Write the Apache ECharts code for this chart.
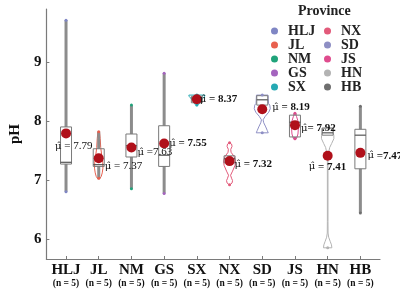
<!DOCTYPE html>
<html><head><meta charset="utf-8">
<script src="https://cdn.jsdelivr.net/npm/echarts@6/dist/echarts.min.js"></script>
<style>html,body{margin:0;padding:0;background:#fff}#c{width:400px;height:289px}</style>
</head><body><div id="c"></div>
<script>
// ---- data ----
const provinces = ['HLJ','JL','NM','GS','SX','NX','SD','JS','HN','HB'];
const sampleSizes = [5,5,5,5,5,5,5,5,5,5];
const dataMin = [6.80,7.03,6.85,6.77,8.27,6.92,7.80,7.70,5.85,6.44];
const dataMax = [9.71,7.82,8.27,8.81,8.44,7.63,8.44,8.13,7.88,8.25];
const q1 = [7.27,7.23,7.39,7.23,8.31,7.29,8.27,7.73,7.76,7.19];
const median = [7.30,7.26,7.58,7.42,8.39,7.36,8.36,7.98,7.80,7.76];
const q3 = [7.90,7.53,7.78,7.92,8.42,7.41,8.43,8.10,7.88,7.86];
const whiskerLow = [6.80,7.03,6.85,6.77,8.31,7.29,8.27,7.70,7.76,6.44];
const whiskerHigh = [9.71,7.82,8.27,8.81,8.42,7.41,8.43,8.13,7.88,8.25];
const meanDot = [7.79,7.37,7.55,7.62,8.37,7.32,8.20,7.93,7.41,7.46];
const meanLabel = ['7.79','7.37','7.63','7.55','8.37','7.32','8.19','7.92','7.41','7.47'];
// violin density profiles [pH, relative density]
const violinHLJ = null;
const violinJL = [[7.02,0.1],[7.06,0.25],[7.12,0.35],[7.2,0.42],[7.3,0.4],[7.42,0.3],[7.55,0.2],[7.7,0.15],[7.82,0.08]];
const violinNM = null;
const violinGS = null;
const violinSX = [[8.26,0.05],[8.28,0.18],[8.31,0.3],[8.35,0.45],[8.39,0.62],[8.42,0.78],[8.44,0.8]];
const violinNX = [[6.92,0.05],[6.95,0.25],[6.99,0.3],[7.03,0.2],[7.08,0.1],[7.15,0.3],[7.25,0.55],[7.33,0.6],[7.4,0.45],[7.47,0.15],[7.52,0.12],[7.57,0.25],[7.61,0.2],[7.63,0.05]];
const violinSD = [[7.80,0.6],[7.84,0.5],[7.9,0.35],[7.97,0.15],[8.02,0.08],[8.08,0.3],[8.15,0.65],[8.21,0.8],[8.27,0.75],[8.3,0.62],[8.38,0.6],[8.44,0.58]];
const violinJS = [[7.70,0.15],[7.78,0.3],[7.9,0.35],[8.0,0.3],[8.08,0.15],[8.13,0.05]];
const violinHN = [[5.85,0.42],[5.9,0.38],[5.96,0.25],[6.03,0.1],[6.1,0.04],[6.3,0.03],[7.3,0.03],[7.45,0.08],[7.55,0.2],[7.62,0.4],[7.7,0.62],[7.75,0.62],[7.8,0.56],[7.88,0.56]];
const violinHB = null;
const yTicks = [6,7,8,9];

// ---- styling ----
const violins = [violinHLJ,violinJL,violinNM,violinGS,violinSX,violinNX,violinSD,violinJS,violinHN,violinHB];
const colors = ['#7f86c4','#e8604e','#1fa37a','#a464be','#25a9b3','#e25a7a','#8e8fc4','#df4c8e','#b3b3b3','#6f6f6f'];
const serif = 'Liberation Serif';
const labelOffsets = [[-11,13],[6,8],[6,5],[5,0],[3,0],[5,3],[10,-2],[6,3],[-19,11],[7,3]];
const labelWeights = ['normal','normal','normal','bold','bold','bold','bold','bold','bold','bold'];
const labelSeps = [' = ',' = ',' =',' = ',' = ',' = ',' = ','= ',' = ',' ='];
const xPos = provinces.map((p,i)=>i+1);

const chart = echarts.init(document.getElementById('c'), null, {renderer:'canvas'});

const violinSeries = {
  type:'custom', z:2, silent:true,
  data: xPos.map((x,i)=>[x,i]),
  renderItem:(params, api)=>{
    const i = api.value(1);
    const prof = violins[i];
    if(!prof) return null;
    const x = api.value(0);
    const scale = 10;
    const right = prof.map(([v,d])=>{const c=api.coord([x,v]);return [c[0]+d*scale,c[1]];});
    const left = prof.slice().reverse().map(([v,d])=>{const c=api.coord([x,v]);return [c[0]-d*scale,c[1]];});
    return {type:'polygon', shape:{points:right.concat(left)}, style:{fill:'rgba(255,255,255,0)', stroke:colors[i], lineWidth:1}};
  }
};

const boxSeries = {
  type:'custom', z:3, silent:true,
  data: xPos.map((x,i)=>[x, whiskerLow[i], q1[i], median[i], q3[i], whiskerHigh[i]]),
  renderItem:(params, api)=>{
    const x = api.value(0);
    const lo = api.coord([x, api.value(1)]);
    const b1 = api.coord([x, api.value(2)]);
    const md = api.coord([x, api.value(3)]);
    const b3 = api.coord([x, api.value(4)]);
    const hi = api.coord([x, api.value(5)]);
    const hw = 5.5;
    const ch = [];
    if (lo[1]-b1[1] > 0.5) ch.push({type:'line', shape:{x1:lo[0],y1:lo[1],x2:b1[0],y2:b1[1]}, style:{stroke:'#8c8c8c', lineWidth:3}});
    if (b3[1]-hi[1] > 0.5) ch.push({type:'line', shape:{x1:b3[0],y1:b3[1],x2:hi[0],y2:hi[1]}, style:{stroke:'#8c8c8c', lineWidth:3}});
    ch.push({type:'rect', shape:{x:b3[0]-hw, y:b3[1], width:hw*2, height:b1[1]-b3[1]}, style:{fill:'rgba(255,255,255,0)', stroke:'#7a7a7a', lineWidth:1}});
    ch.push({type:'line', shape:{x1:md[0]-hw,y1:md[1],x2:md[0]+hw,y2:md[1]}, style:{stroke:'#555', lineWidth:1.2}});
    return {type:'group', children:ch};
  }
};

const endSeries = provinces.map((p,i)=>({
  type:'scatter', name:p, z:4, symbol:'circle', symbolSize:3,
  itemStyle:{color:colors[i], opacity:1},
  data:[[xPos[i], dataMin[i]],[xPos[i], dataMax[i]]]
}));

const meanSeries = {
  type:'scatter', z:6, symbol:'circle', symbolSize:10, silent:true,
  itemStyle:{color:'#b0101a', opacity:1},
  data: xPos.map((x,i)=>({
    value:[x, meanDot[i]],
    label:{show:true, position:[5+labelOffsets[i][0], 5+labelOffsets[i][1]], align:'left', verticalAlign:'middle',
      formatter:'{m|μ\u0302}{t|'+labelSeps[i]+meanLabel[i]+'}',
      rich:{
        m:{fontFamily:'DejaVu Serif', fontSize:10, fontWeight:'normal', color:'#111'},
        t:{fontFamily:serif, fontSize:11, fontWeight:labelWeights[i], color:'#111'}
      }}
  }))
};

const legendText = {fontFamily:serif, fontSize:14, fontWeight:'bold', color:'#222', padding:[0,0,0,5]};
chart.setOption({
  animation:false,
  title:{text:'Province', left:293, top:-1, textStyle:{fontFamily:serif, fontSize:14, fontWeight:'bold', color:'#222'}},
  legend:[
    {data:provinces.slice(0,5), orient:'vertical', left:266, top:19, icon:'circle', itemWidth:7, itemHeight:7, itemGap:0, textStyle:legendText, selectedMode:false},
    {data:provinces.slice(5), orient:'vertical', left:319, top:19, icon:'circle', itemWidth:7, itemHeight:7, itemGap:0, textStyle:legendText, selectedMode:false}
  ],
  grid:{left:29, right:20, top:9, bottom:30},
  xAxis:{type:'value', min:0.4, max:10.6,
    axisLine:{lineStyle:{color:'#7a7a7a', width:1.2}},
    splitLine:{show:false},
    axisTick:{show:true, inside:true, length:3, customValues:xPos, lineStyle:{color:'#7a7a7a'}},
    axisLabel:{customValues:xPos, margin:4, formatter:v=>{const i=Math.round(v)-1;return '{a|'+provinces[i]+'}\n{b|(n = '+sampleSizes[i]+')}';},
      rich:{a:{fontFamily:serif, fontSize:15, fontWeight:'bold', color:'#111', lineHeight:15},
            b:{fontFamily:serif, fontSize:9.5, fontWeight:'bold', color:'#111', lineHeight:12}}}
  },
  yAxis:{type:'value', min:5.66, max:9.9, name:'pH', nameLocation:'middle', nameGap:19,
    nameTextStyle:{fontFamily:serif, fontSize:15, fontWeight:'bold', color:'#111'},
    axisLine:{show:true, lineStyle:{color:'#7a7a7a', width:1.2}},
    splitLine:{show:false},
    axisTick:{show:true, inside:true, length:3, customValues:yTicks, lineStyle:{color:'#7a7a7a'}},
    axisLabel:{customValues:yTicks, margin:5, fontFamily:serif, fontSize:15, fontWeight:'bold', color:'#111'}
  },
  series:[violinSeries, boxSeries].concat(endSeries, [meanSeries])
});
</script></body></html>
